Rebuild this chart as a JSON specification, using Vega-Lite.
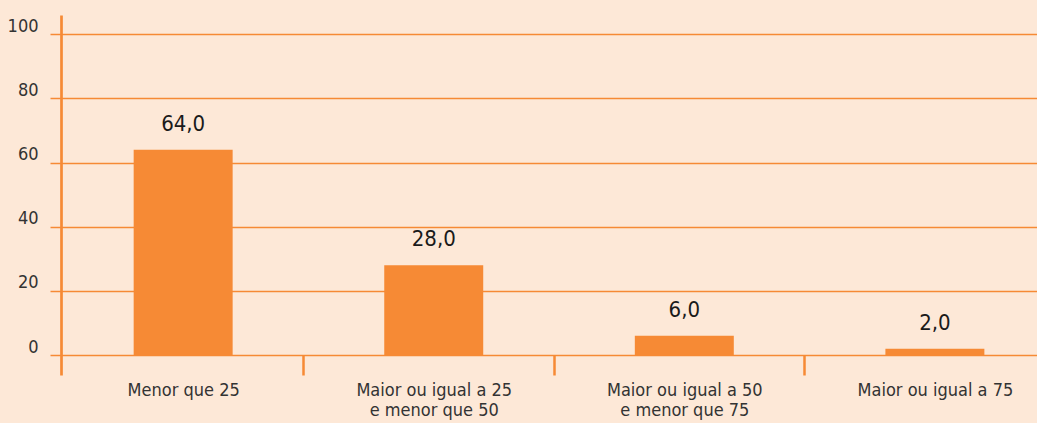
{
  "$schema": "https://vega.github.io/schema/vega-lite/v6.json",
  "autosize": "none",
  "width": 976,
  "height": 360,
  "padding": {"left": 61, "top": 15, "right": 0, "bottom": 48},
  "background": "#fde8d7",
  "config": {
    "view": {"stroke": null},
    "locale": {"number": {"decimal": ",", "thousands": ".", "grouping": [3], "currency": ["R$", ""]}},
    "font": "DejaVu Sans Condensed, Liberation Sans Narrow, sans-serif"
  },
  "data": {
    "values": [
      {"faixa": "Menor que 25", "valor": 64.0},
      {"faixa": "Maior ou igual a 25|e menor que 50", "valor": 28.0},
      {"faixa": "Maior ou igual a 50|e menor que 75", "valor": 6.0},
      {"faixa": "Maior ou igual a 75", "valor": 2.0}
    ]
  },
  "encoding": {
    "x": {
      "field": "faixa",
      "type": "nominal",
      "sort": null,
      "scale": {"paddingInner": 0.605, "paddingOuter": 0.25, "align": 0.58},
      "axis": {
        "title": null,
        "offset": -20,
        "labelAngle": 0,
        "labelExpr": "split(datum.label, '|')",
        "labelFont": "DejaVu Sans Condensed, Liberation Sans Narrow, sans-serif",
        "labelFontSize": 18,
        "labelColor": "#333333",
        "labelLineHeight": 20,
        "labelPadding": 6,
        "labelBaseline": "top",
        "tickOffset": 120,
        "labelOffset": -120,
        "tickSize": 20,
        "tickWidth": 2.5,
        "tickColor": "#f68a35",
        "domain": false,
        "zindex": 1
      }
    },
    "y": {
      "field": "valor",
      "type": "quantitative",
      "scale": {"domain": [-6.2, 106], "nice": false, "zero": false},
      "axis": {
        "title": null,
        "values": [0, 20, 40, 60, 80, 100],
        "labelFont": "DejaVu Sans Condensed, Liberation Sans Narrow, sans-serif",
        "labelFontSize": 18,
        "labelColor": "#333333",
        "labelBaseline": "alphabetic",
        "labelOffset": -3,
        "labelPadding": 12,
        "tickSize": 11,
        "tickWidth": 1.5,
        "tickColor": "#f68a35",
        "domainColor": "#f68a35",
        "domainWidth": 2.7,
        "grid": true,
        "gridColor": "#f68a35",
        "gridWidth": 1.5,
        "gridOpacity": 1
      }
    }
  },
  "layer": [
    {"mark": {"type": "bar", "color": "#f68a35"}, "encoding": {"y2": {"datum": 0}}},
    {
      "mark": {"type": "text", "baseline": "alphabetic", "dy": -19, "fontSize": 22, "font": "DejaVu Sans Condensed, Liberation Sans Narrow, sans-serif", "color": "#1a1a1a"},
      "encoding": {"text": {"field": "valor", "type": "quantitative", "format": ".1f"}}
    }
  ]
}
